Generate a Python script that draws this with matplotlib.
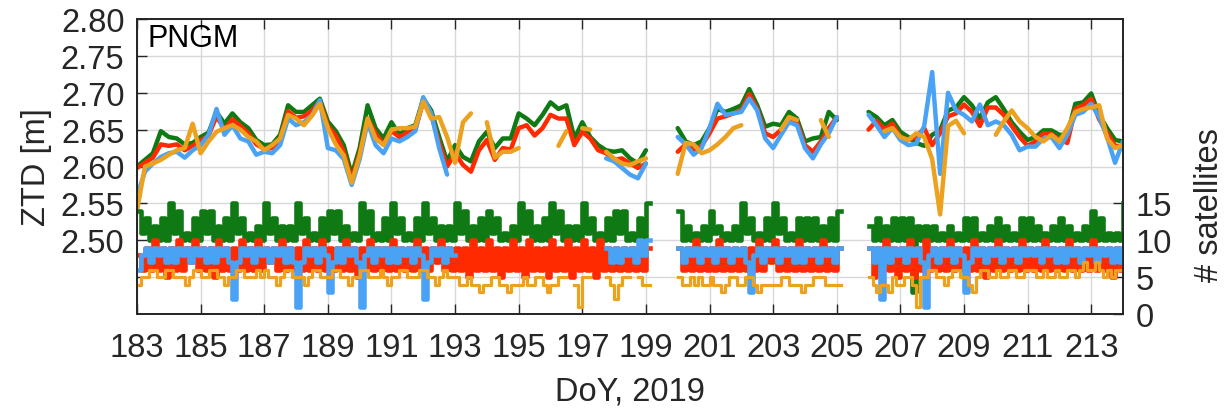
import numpy as np
import matplotlib
matplotlib.use('Agg')
import matplotlib.pyplot as plt

N = float('nan')

# ---------------- data ----------------
station = 'PNGM'
day_first, day_last = 183, 214
xtick_days = list(range(183, 214, 2))
ztd_ticks = [2.45, 2.50, 2.55, 2.60, 2.65, 2.70, 2.75, 2.80]
ztd_labels = ['', '2.50', '2.55', '2.60', '2.65', '2.70', '2.75', '2.80']
sat_ticks = [0, 5, 10, 15]

# ZTD [m], 6-hourly samples from DoY 183.00 to 214.00
ztd_green = [
    2.600, 2.609, 2.618, 2.648,  2.640, 2.638, 2.630, 2.632,  2.640, 2.646, 2.674, 2.658,
    2.672, 2.660, 2.652, 2.636,  2.629, 2.630, 2.643, 2.683,  2.674, 2.674, 2.683, 2.692,
    2.661, 2.648, 2.629, 2.589,  2.625, 2.683, 2.652, 2.638,  2.660, 2.643, 2.652, 2.656,
    2.692, 2.676, 2.640, 2.607,  2.629, 2.613, 2.607, 2.634,  2.647, 2.625, 2.638, 2.638,
    2.672, 2.665, 2.656, 2.670,  2.687, 2.678, 2.683, 2.638,  2.660, 2.640, 2.629, 2.622,
    2.620, 2.622, 2.611, 2.604,  2.622, N, N, N,              2.652, 2.634, 2.629, 2.634,
    2.652, 2.678, 2.674, 2.678,  2.683, 2.705, 2.683, 2.654,  2.658, 2.656, 2.674, 2.665,
    2.634, 2.638, 2.640, 2.674,  2.663, N, N, N,              2.674, 2.667, 2.656, 2.663,
    2.647, 2.640, 2.632, 2.628,  2.643, 2.649, 2.676, 2.680,  2.694, 2.683, 2.665, 2.687,
    2.694, 2.678, 2.660, 2.647,  2.636, 2.640, 2.649, 2.649,  2.643, 2.643, 2.685, 2.687,
    2.699, 2.670, 2.652, 2.636,  2.634]
ztd_red = [
    2.598, 2.605, 2.612, 2.630,  2.628, 2.630, 2.622, 2.628,  2.635, 2.642, 2.668, 2.650,
    2.664, 2.655, 2.645, 2.630,  2.624, 2.625, 2.638, 2.675,  2.666, 2.668, 2.676, 2.688,
    2.655, 2.642, 2.620, 2.582,  2.618, 2.665, 2.645, 2.630,  2.648, 2.640, 2.646, 2.650,
    2.688, 2.670, 2.632, 2.600,  2.618, 2.602, 2.593, 2.622,  2.636, 2.609, 2.625, 2.623,
    2.652, 2.656, 2.642, 2.652,  2.670, 2.665, 2.665, 2.629,  2.647, 2.638, 2.622, 2.618,
    2.609, 2.611, 2.604, 2.598,  2.604, N, N, N,              2.620, 2.630, 2.622, 2.628,
    2.645, 2.665, 2.668, 2.672,  2.676, 2.698, 2.678, 2.645,  2.640, 2.650, 2.667, 2.660,
    2.629, 2.620, 2.634, 2.652,  2.667, N, N, N,              2.650, 2.662, 2.650, 2.658,
    2.640, 2.636, 2.640, 2.652,  2.629, 2.645, 2.668, 2.672,  2.684, 2.674, 2.655, 2.680,
    2.680, 2.670, 2.655, 2.640,  2.628, 2.634, 2.645, 2.644,  2.636, 2.632, 2.678, 2.683,
    2.692, 2.664, 2.646, 2.628,  2.628]
ztd_blue = [
    2.560, 2.593, 2.604, 2.613,  2.618, 2.620, 2.612, 2.622,  2.629, 2.643, 2.678, 2.643,
    2.656, 2.638, 2.634, 2.616,  2.620, 2.618, 2.629, 2.665,  2.656, 2.660, 2.669, 2.690,
    2.625, 2.622, 2.610, 2.575,  2.610, 2.660, 2.629, 2.618,  2.638, 2.634, 2.640, 2.648,
    2.694, 2.672, 2.625, 2.589,  N, N, N, N,                  N, N, N, N,
    N, N, N, N,                  N, N, N, N,                  N, N, N, 2.611,
    2.607, 2.598, 2.589, 2.584,  2.604, N, N, N,              2.640, 2.630, 2.616, 2.625,
    2.652, 2.685, 2.670, 2.672,  2.674, 2.692, 2.676, 2.638,  2.625, 2.643, 2.660, 2.656,
    2.625, 2.611, 2.630, 2.645,  2.667, N, N, N,              2.670, 2.656, 2.640, 2.652,
    2.636, 2.629, 2.631, 2.655,  2.728, 2.590, 2.700, 2.676,  2.670, 2.661, 2.684, 2.656,
    2.661, 2.656, 2.643, 2.622,  2.627, 2.627, 2.638, 2.640,  2.625, 2.643, 2.670, 2.674,
    2.685, 2.667, 2.640, 2.605,  2.634]
ztd_orange = [
    2.540, 2.600, 2.604, 2.609,  2.616, 2.622, 2.625, 2.658,  2.618, 2.634, 2.647, 2.652,
    2.656, 2.650, 2.640, 2.634,  2.622, 2.629, 2.638, 2.670,  2.665, 2.656, 2.669, 2.685,
    2.652, 2.630, 2.615, 2.578,  2.615, 2.665, 2.638, 2.629,  2.650, 2.652, 2.652, 2.654,
    2.688, 2.665, 2.667, 2.640,  2.605, 2.660, 2.672, N,      2.660, 2.612, 2.620, 2.620,
    2.625, N, N, N,              N, 2.628, 2.648, N,          2.652, 2.650, N, 2.620,
    2.611, 2.604, 2.602, 2.607,  2.611, N, N, N,              2.590, 2.632, 2.630, 2.618,
    2.622, 2.630, 2.640, 2.652,  2.656, N, N, N,              N, 2.650, 2.667, 2.663,
    N, N, 2.663, 2.640,          N, N, N, N,                  N, N, 2.648, 2.652,
    2.640, 2.636, 2.645, 2.640,  2.610, 2.535, 2.655, 2.662,  2.645, N, N, N,
    2.643, 2.661, 2.676, 2.661,  2.652, 2.640, 2.634, 2.643,  2.634, 2.652, 2.674, 2.678,
    2.680, 2.683, 2.638, 2.625,  2.629]

# number of satellites, 3-hourly samples from DoY 183.000 to 214.000
sat_green = [
    14, 11, 13, 10, 12, 10, 13, 10,   15, 11, 14, 10, 11, 10, 13, 10,   14, 11, 14, 10, 12, 10, 13, 10,
    15, 11, 13, 10, 11, 10, 12, 10,   15, 11, 13, 10, 12, 10, 12, 10,   15, 11, 13, 10, 11, 10, 13, 10,
    14, 11, 14, 10, 12, 10, 11, 10,   15, 11, 14, 10, 11, 10, 13, 10,   15, 11, 13, 10, 11, 10, 13, 10,
    15, 11, 13, 10, 12, 10, 12, 10,   15, 11, 14, 10, 12, 10, 13, 10,   14, 11, 13, 10, 11, 10, 12, 10,
    15, 11, 14, 10, 12, 10, 13, 10,   15, 11, 14, 10, 12, 10, 12, 10,   15, 11, 13, 10, 11, 10, 13, 10,
    14, 11, 14, 10, 11, 10, 13, 10,   15, N, N, N, N, N, N, N,          14, 10, 12, 10, 11, 10, 12, 10,
    14, 11, 12, 10, 11, 10, 12, 10,   15, 11, 13, 10, 11, 10, 13, 10,   15, 11, 13, 10, 11, 10, 13, 10,
    13, 10, 13, 10, 12, 10, 13, 10,   14, N, N, N, N, N, N, N,          12, 10, 13, 10, 12, 10, 13, 10,
    13, 10, 13, 3, 12, 10, 12, 10,    12, 10, 11, 10, 12, 10, 11, 10,   13, 10, 13, 10, 11, 10, 12, 10,
    13, 10, 12, 10, 11, 10, 13, 10,   13, 10, 12, 10, 11, 10, 12, 10,   13, 10, 12, 10, 11, 10, 12, 10,
    14, 10, 13, 10, 11, 10, 11, 10,   15]
sat_red = [
    8, 6, 9, 6, 10, 6, 9, 5,   9, 6, 10, 6, 9, 7, 10, 6,   9, 6, 9, 5, 10, 6, 9, 6,
    9, 6, 10, 6, 9, 6, 10, 6,  9, 7, 9, 6, 10, 6, 9, 6,    9, 6, 10, 6, 9, 6, 10, 6,
    9, 6, 9, 6, 10, 6, 9, 5,   9, 6, 10, 6, 9, 6, 9, 6,    10, 6, 9, 6, 9, 6, 10, 6,
    9, 6, 9, 7, 10, 6, 9, 6,   9, 6, 9, 5, 10, 6, 9, 6,    10, 6, 9, 5, 9, 6, 10, 6,
    9, 5, 10, 6, 9, 6, 9, 5,   10, 6, 9, 6, 10, 5, 9, 6,   10, 6, 9, 5, 10, 6, 9, 6,
    9, 6, 9, 6, 9, 6, 9, 6,    9, N, N, N, N, N, N, N,     9, 6, 9, 6, 10, 6, 9, 6,
    9, 6, 10, 6, 9, 6, 9, 6,   9, 6, 9, 6, 10, 6, 9, 7,    10, 6, 9, 6, 9, 6, 10, 6,
    9, 6, 9, 6, 10, 6, 9, 6,   9, N, N, N, N, N, N, N,     9, 5, 9, 6, 10, 6, 9, 5,
    9, 6, 10, 5, 9, 6, 10, 6,  9, 6, 9, 6, 10, 6, 9, 6,    9, 6, 10, 6, 9, 5, 9, 6,
    10, 6, 9, 6, 9, 6, 10, 6,  9, 6, 9, 6, 10, 6, 9, 6,    9, 6, 10, 6, 9, 6, 9, 6,
    10, 6, 9, 6, 9, 5, 9, 6,   9]
sat_blue = [
    6, 8, 9, 7, 9, 8, 9, 7,    9, 7, 9, 8, 9, 7, 9, 8,     9, 7, 9, 7, 9, 8, 9, 7,
    2, 7, 9, 8, 9, 7, 9, 8,    9, 7, 9, 8, 9, 7, 9, 7,     1, 7, 9, 8, 9, 7, 9, 8,
    3, 7, 9, 7, 9, 8, 9, 7,    1, 8, 9, 7, 9, 8, 9, 7,     9, 7, 9, 8, 9, 7, 9, 8,
    2, 7, 9, 8, 9, 7, 9, 8,    N, N, N, N, N, N, N, N,     N, N, N, N, N, N, N, N,
    N, N, N, N, N, N, N, N,    N, N, N, N, N, N, N, N,     N, N, N, N, N, N, 9, 7,
    9, 7, 9, 8, 9, 7, 10, 8,   10, N, N, N, N, N, N, N,    9, 7, 9, 8, 9, 7, 9, 8,
    9, 7, 9, 8, 9, 7, 9, 8,    9, 7, 3, 8, 9, 7, 9, 8,     9, 7, 9, 8, 9, 7, 9, 7,
    9, 8, 9, 7, 9, 8, 9, 7,    9, N, N, N, N, N, N, N,     9, 7, 9, 2, 9, 7, 9, 8,
    9, 7, 9, 8, 9, 7, 1, 8,    9, 7, 9, 8, 9, 7, 9, 8,     3, 7, 9, 8, 9, 7, 9, 8,
    9, 7, 9, 8, 9, 7, 9, 8,    9, 8, 9, 7, 9, 8, 9, 7,     9, 7, 9, 8, 9, 7, 9, 8,
    9, 7, 9, 8, 9, 7, 9, 7,    9]
sat_orange = [
    4, 5, 5, 6, 6, 5, 5, 6,    6, 5, 5, 5, 4, 5, 6, 6,     5, 5, 6, 6, 5, 5, 4, 5,
    5, 6, 6, 5, 5, 5, 6, 5,    6, 5, 5, 4, 5, 6, 6, 5,     5, 5, 4, 5, 6, 6, 5, 5,
    5, 6, 6, 5, 5, 4, 5, 5,    6, 6, 5, 5, 5, 6, 5, 4,     5, 5, 6, 6, 5, 5, 5, 6,
    6, 5, 5, 4, 5, 6, 5, 5,    5, 4, 4, 5, 4, 4, 3, 4,     4, 5, 5, 4, 4, 3, 4, 4,
    4, 5, 4, 4, 5, 5, 4, 3,    4, 4, 5, 5, N, N, 4, 1,     5, 5, N, N, N, N, 5, 4,
    2, 4, 5, 5, N, N, 5, 4,    4, N, N, N, N, N, N, N,     5, 4, 4, 5, 4, 5, 4, 4,
    5, 4, 4, 3, 4, 5, 5, 4,    4, 5, 5, 4, 3, 4, 4, 4,     4, 4, 5, 5, 4, 4, 4, 3,
    4, 4, 5, 5, 5, 4, 4, 4,    4, N, N, N, N, N, N, N,     5, 4, 3, 4, 4, 3, 5, 4,
    4, 5, 5, 4, 1, 5, 5, 6,    6, 5, 5, 4, 5, 6, 6, 5,     5, 4, 3, 5, 6, 6, 5, 5,
    6, 5, 5, 6, 6, 5, 5, 6,    6, 6, 5, 5, 6, 5, 5, 6,     5, 5, 6, 6, 5, 6, 7, 6,
    6, 7, 6, 5, 6, 5, 6, 6,    6]

colors = {'green': '#0f7a14', 'red': '#ff2a00', 'blue': '#4aa2f5', 'orange': '#eca11f'}
# --------------------------------------

plt.rcParams['font.family'] = ['Liberation Sans', 'DejaVu Sans']
text_col = '#262626'

t_ztd = np.linspace(day_first, day_last, len(ztd_green))
t_sat = np.linspace(day_first, day_last, len(sat_green))

fig = plt.figure(figsize=(12.29, 4.10), dpi=100)
ax = fig.add_axes([137/1229, 1-315/410, 986/1229, 295/410])
ax2 = ax.twinx()

for name, ser in [('green', ztd_green), ('red', ztd_red), ('blue', ztd_blue), ('orange', ztd_orange)]:
    ax.plot(t_ztd, np.array(ser, dtype=float), color=colors[name], lw=3.2,
            solid_joinstyle='round', solid_capstyle='round')

for name, ser, lw in [('green', sat_green, 3.3), ('red', sat_red, 3.3),
                      ('blue', sat_blue, 3.3), ('orange', sat_orange, 2.3)]:
    ax2.plot(t_sat, np.array(ser, dtype=float), color=colors[name], lw=lw,
             drawstyle='steps-post')

ax.set_xlim(day_first, day_last)
ax.set_ylim(2.40, 2.80)
ax2.set_ylim(0, 40)

ax.set_xticks(xtick_days)
ax.set_xticklabels([str(d) for d in xtick_days])
ax.set_yticks(ztd_ticks)
ax.set_yticklabels(ztd_labels)
ax2.set_yticks(sat_ticks)
ax2.set_yticklabels([str(s) for s in sat_ticks])

ax.grid(True, color='#d8d8d8', lw=1.0)
ax.set_axisbelow(True)

for a in (ax, ax2):
    for sp in a.spines.values():
        sp.set_color(text_col)
        sp.set_linewidth(1.3)

ax.tick_params(axis='x', direction='in', length=7, width=1, top=True, bottom=True,
               labelsize=23.5, colors=text_col, pad=13)
ax.tick_params(axis='y', direction='in', length=7, width=1, left=True, right=False,
               labelsize=23.5, colors=text_col, pad=9)
ax2.tick_params(axis='y', direction='in', length=7, width=1, labelsize=23.5,
                colors=text_col, pad=9)

ax.set_ylabel('ZTD [m]', fontsize=23.5, color=text_col)
ax.yaxis.set_label_coords(-0.086, 0.5)
ax2.set_ylabel('# satellites', fontsize=23.5, color=text_col)
ax2.yaxis.set_label_coords(1.072, 0.373)
ax.set_xlabel('DoY, 2019', fontsize=23.5, color=text_col, labelpad=9)

ax.text(0.011, 0.985, station, transform=ax.transAxes, fontsize=22,
        color='black', va='top', ha='left')

fig.savefig('out.png', dpi=100)
